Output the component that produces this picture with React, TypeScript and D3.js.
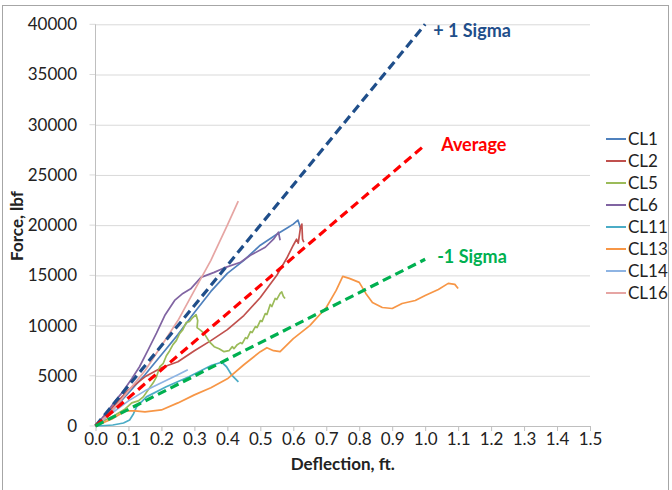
import React, { useEffect, useRef } from "react";
import * as d3 from "d3";

// deflection (ft) / force (lbf) pairs
const cl1 = [[0,0],[0.05,1500],[0.1,3300],[0.15,5100],[0.2,7100],[0.25,9100],[0.3,11300],[0.35,13400],[0.4,15200],[0.45,16500],[0.5,18000],[0.55,19100],[0.58,19700],[0.6,20100],[0.614,20500],[0.622,19700]];
const cl2 = [[0,0],[0.05,1800],[0.1,3600],[0.15,4900],[0.2,5800],[0.25,6400],[0.3,7500],[0.35,8500],[0.4,9600],[0.45,11000],[0.5,12800],[0.55,15000],[0.58,16700],[0.6,18000],[0.61,18600],[0.615,18200],[0.622,19800],[0.626,20100],[0.628,18600],[0.632,18300]];
const cl5 = [[0,0],[0.03,600],[0.06,1100],[0.09,1700],[0.11,2300],[0.13,2500],[0.145,2900],[0.16,3600],[0.175,4300],[0.185,4900],[0.195,5900],[0.205,6200],[0.215,7000],[0.225,7500],[0.235,8100],[0.245,8500],[0.255,9200],[0.265,9600],[0.275,10300],[0.285,10400],[0.295,10800],[0.305,11100],[0.31,10500],[0.308,9800],[0.32,9500],[0.33,9200],[0.345,8400],[0.36,7900],[0.375,7700],[0.39,7400],[0.405,7500],[0.415,7900],[0.42,7700],[0.43,8100],[0.44,8300],[0.445,8200],[0.455,8800],[0.46,8700],[0.47,9400],[0.475,9300],[0.485,9900],[0.49,9800],[0.5,10500],[0.505,10400],[0.515,11200],[0.52,11100],[0.53,12100],[0.535,11900],[0.545,12700],[0.55,12600],[0.56,13200],[0.565,13350],[0.57,12900],[0.575,12700]];
const cl6 = [[0,0],[0.03,1200],[0.06,2500],[0.0825,3400],[0.11,4700],[0.1335,5900],[0.16,7600],[0.185,9250],[0.21,11000],[0.24,12500],[0.265,13200],[0.29,13700],[0.32,14800],[0.36,15300],[0.395,15800],[0.44,16300],[0.47,17000],[0.515,17800],[0.54,18600],[0.555,19300],[0.56,18500]];
const cl11 = [[0,0],[0.03,50],[0.0525,100],[0.085,300],[0.1035,600],[0.115,1200],[0.1245,1900],[0.1545,2900],[0.2145,3900],[0.2835,4900],[0.3525,6050],[0.3825,6350],[0.3975,5900],[0.4125,5100],[0.4335,4400]];
const cl13 = [[0,0],[0.05,700],[0.09,1500],[0.12,1500],[0.15,1400],[0.2,1600],[0.25,2300],[0.3,3100],[0.35,3800],[0.4,4700],[0.45,6100],[0.5,7400],[0.52,7800],[0.54,7500],[0.56,7400],[0.6,8700],[0.65,10000],[0.7,11800],[0.73,13500],[0.75,14900],[0.77,14700],[0.8,14300],[0.82,13200],[0.84,12300],[0.87,11800],[0.9,11700],[0.93,12200],[0.97,12500],[1.0,13000],[1.04,13600],[1.07,14200],[1.09,14100],[1.1,13700]];
const cl14 = [[0,0],[0.05,1300],[0.1,2500],[0.15,3500],[0.2,4300],[0.25,5100],[0.28,5600]];
const cl16 = [[0,0],[0.05,1500],[0.1,3500],[0.15,5500],[0.2,8000],[0.25,10500],[0.3,13500],[0.35,16500],[0.4,20000],[0.433,22400]];

const seriesNames = ["CL1", "CL2", "CL5", "CL6", "CL11", "CL13", "CL14", "CL16"];
const seriesData = [cl1, cl2, cl5, cl6, cl11, cl13, cl14, cl16];
const seriesColors = ["#4f81bd", "#c0504d", "#9bbb59", "#8064a2", "#4bacc6", "#f79646", "#8eb4e3", "#e6a5a3"];

// design trend lines: start and end points
const trendNames = ["+ 1 Sigma", "Average", "-1 Sigma"];
const trendData = [[[0, 0], [1.0, 40000]], [[0, 0], [1.0, 28000]], [[0, 0], [1.0, 16600]]];
const trendColors = ["#1f4e8a", "#ff0000", "#00b050"];

const xTicks = [0, 0.1, 0.2, 0.3, 0.4, 0.5, 0.6, 0.7, 0.8, 0.9, 1.0, 1.1, 1.2, 1.3, 1.4, 1.5];
const yTicks = [0, 5000, 10000, 15000, 20000, 25000, 30000, 35000, 40000];

const App = () => {
  const ref = useRef(null);

  useEffect(() => {
    const svg = d3.select(ref.current);
    svg.selectAll("*").remove();

    const left = 95.5, right = 590, top = 24.3, bottom = 426;
    const x = d3.scaleLinear().domain([0, 1.5]).range([left, right]);
    const y = d3.scaleLinear().domain([0, 40000]).range([bottom, top]);
    const font = "Lato, 'Open Sans', sans-serif";

    // chart frame
    svg.append("rect")
      .attr("x", 2.5).attr("y", 5.5)
      .attr("width", 666).attr("height", 490)
      .attr("fill", "#fff").attr("stroke", "#a6a6a6");

    // horizontal grid
    svg.append("g")
      .attr("transform", `translate(${left},0)`)
      .call(d3.axisLeft(y).tickValues(yTicks).tickSize(-(right - left)).tickFormat(() => ""))
      .call((g) => g.select(".domain").remove())
      .call((g) => g.selectAll("line").attr("stroke", "#d9d9d9"));
    svg.append("g")
      .selectAll("line")
      .data(yTicks)
      .enter()
      .append("line")
      .attr("x1", left - 6).attr("x2", left)
      .attr("y1", (d) => y(d)).attr("y2", (d) => y(d))
      .attr("stroke", "#d9d9d9");

    // y axis line
    svg.append("line")
      .attr("x1", left).attr("x2", left)
      .attr("y1", top).attr("y2", bottom)
      .attr("stroke", "#bfbfbf");

    // x axis
    const xAxis = svg.append("g")
      .attr("transform", `translate(0,${bottom})`)
      .call(d3.axisBottom(x).tickValues(xTicks).tickSize(5).tickSizeOuter(0).tickFormat((d) => d.toFixed(1)));
    xAxis.select(".domain").attr("stroke", "#bfbfbf");
    xAxis.selectAll("line").attr("stroke", "#bfbfbf");
    xAxis.selectAll("text")
      .attr("y", 7)
      .attr("font-family", font).attr("font-size", 17).attr("fill", "#222");

    // y tick labels
    svg.append("g")
      .selectAll("text")
      .data(yTicks)
      .enter()
      .append("text")
      .attr("x", 77)
      .attr("y", (d) => y(d))
      .attr("dy", "0.35em")
      .attr("text-anchor", "end")
      .attr("font-family", font).attr("font-size", 17).attr("fill", "#222")
      .text((d) => d);

    // test curves
    const line = d3.line().x((d) => x(d[0])).y((d) => y(d[1]));
    svg.append("g")
      .selectAll("path")
      .data(seriesData)
      .enter()
      .append("path")
      .attr("d", (d) => line(d))
      .attr("fill", "none")
      .attr("stroke", (d, i) => seriesColors[i])
      .attr("stroke-width", 1.7)
      .attr("stroke-linejoin", "round");

    // trend lines
    svg.append("g")
      .selectAll("path")
      .data(trendData)
      .enter()
      .append("path")
      .attr("d", (d) => line(d))
      .attr("fill", "none")
      .attr("stroke", (d, i) => trendColors[i])
      .attr("stroke-width", 3.2)
      .attr("stroke-dasharray", "9,5");

    svg.append("g")
      .selectAll("text")
      .data(trendData)
      .enter()
      .append("text")
      .attr("x", (d, i) => x(d[1][0]) + [8, 16, 12][i])
      .attr("y", (d, i) => y(d[1][1]) + [6, 0, -3][i])
      .attr("dy", "0.35em")
      .attr("font-family", font).attr("font-weight", "bold").attr("font-size", 18)
      .attr("fill", (d, i) => trendColors[i])
      .text((d, i) => trendNames[i]);

    // legend
    const legend = svg.append("g")
      .selectAll("g")
      .data(seriesNames)
      .enter()
      .append("g")
      .attr("transform", (d, i) => `translate(606,${139 + i * 22})`);
    legend.append("line")
      .attr("x1", 0).attr("x2", 20)
      .attr("stroke", (d, i) => seriesColors[i])
      .attr("stroke-width", 2);
    legend.append("text")
      .attr("x", 22)
      .attr("dy", "0.35em")
      .attr("font-family", font).attr("font-size", 17).attr("fill", "#222")
      .text((d) => d);

    // axis titles
    svg.append("text")
      .attr("x", (left + right) / 2)
      .attr("y", 464)
      .attr("dy", "0.35em")
      .attr("text-anchor", "middle")
      .attr("font-family", font).attr("font-weight", "bold").attr("font-size", 17).attr("fill", "#222")
      .text("Deflection, ft.");
    svg.append("text")
      .attr("transform", "translate(17,226) rotate(-90)")
      .attr("dy", "0.35em")
      .attr("text-anchor", "middle")
      .attr("font-family", font).attr("font-weight", "bold").attr("font-size", 17).attr("fill", "#222")
      .text("Force, lbf");
  }, []);

  return (
    <svg ref={ref} width={672} height={490} style={{ position: "absolute", left: 0, top: 0 }} />
  );
};

export default App;
